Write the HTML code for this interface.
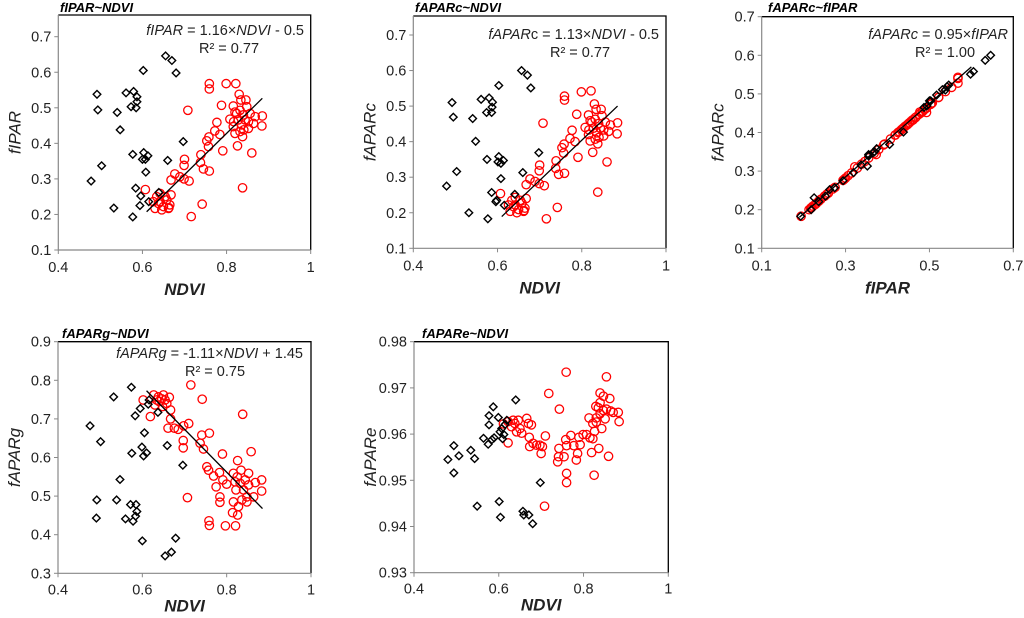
<!DOCTYPE html>
<html><head><meta charset="utf-8"><style>
body{margin:0;background:#fff;}
svg{display:block;font-family:"Liberation Sans",Arial,sans-serif;}
</style></head><body>
<svg id="chart" width="1024" height="618" viewBox="0 0 1024 618" xmlns="http://www.w3.org/2000/svg"></svg>
<script>
// ---- data ----
const ndviBlack1 = [0.655,0.670,0.680,0.602,0.492,0.561,0.579,0.587,0.587,0.573,0.585,0.494,0.540,0.547,0.697,0.577,0.603,0.613,0.600,0.607,0.503,0.660,0.608,0.478,0.584,0.639,0.596,0.615,0.532,0.577,0.594];
const fiparBlack = [0.646,0.633,0.598,0.605,0.538,0.542,0.546,0.531,0.517,0.503,0.500,0.494,0.487,0.438,0.405,0.369,0.374,0.365,0.355,0.355,0.337,0.352,0.319,0.294,0.274,0.262,0.252,0.236,0.218,0.193,0.225];
const ndviBlack2 = [0.657,0.671,0.679,0.603,0.492,0.561,0.580,0.588,0.587,0.574,0.586,0.495,0.541,0.548,0.698,0.575,0.603,0.614,0.601,0.608,0.503,0.660,0.608,0.479,0.586,0.641,0.598,0.616,0.532,0.577,0.596];
const fapcBlack = [0.600,0.587,0.551,0.558,0.510,0.519,0.523,0.511,0.497,0.482,0.482,0.469,0.465,0.401,0.369,0.350,0.358,0.347,0.343,0.339,0.316,0.313,0.296,0.275,0.257,0.252,0.235,0.221,0.200,0.183,0.231];
const ndviRed = [0.607,0.634,0.642,0.650,0.630,0.658,0.665,0.646,0.638,0.654,0.626,0.662,0.642,0.668,0.663,0.668,0.677,0.689,0.699,0.711,0.700,0.699,0.708,0.716,0.742,0.739,0.738,0.745,0.759,0.753,0.758,0.757,0.772,0.784,0.777,0.791,0.788,0.759,0.759,0.799,0.822,0.808,0.817,0.826,0.838,0.860,0.884,0.885,0.868,0.864,0.816,0.830,0.834,0.824,0.832,0.840,0.848,0.844,0.836,0.852,0.832,0.838,0.820,0.856,0.828,0.846,0.820,0.852,0.816,0.841];
const fiparRed = [0.270,0.250,0.236,0.222,0.217,0.241,0.227,0.213,0.231,0.250,0.236,0.217,0.259,0.255,0.219,0.297,0.314,0.306,0.300,0.294,0.355,0.338,0.493,0.194,0.229,0.368,0.346,0.328,0.322,0.407,0.418,0.391,0.435,0.425,0.459,0.379,0.507,0.568,0.553,0.568,0.568,0.468,0.461,0.393,0.275,0.373,0.449,0.477,0.475,0.456,0.505,0.538,0.522,0.484,0.493,0.480,0.503,0.466,0.452,0.442,0.433,0.419,0.428,0.484,0.466,0.522,0.488,0.461,0.447,0.438];
const fapcRed = [0.254,0.235,0.222,0.209,0.204,0.227,0.213,0.200,0.217,0.235,0.222,0.204,0.243,0.240,0.206,0.279,0.295,0.288,0.282,0.276,0.334,0.318,0.452,0.183,0.215,0.346,0.325,0.308,0.311,0.383,0.393,0.368,0.409,0.400,0.432,0.356,0.477,0.528,0.517,0.540,0.543,0.440,0.433,0.370,0.258,0.343,0.422,0.453,0.447,0.429,0.475,0.506,0.491,0.455,0.463,0.451,0.473,0.438,0.425,0.416,0.407,0.394,0.402,0.455,0.438,0.491,0.459,0.433,0.420,0.412];
const ndviBlack4 = [0.574,0.532,0.616,0.595,0.583,0.637,0.476,0.501,0.605,0.659,0.599,0.610,0.603,0.575,0.696,0.547,0.492,0.539,0.491,0.572,0.585,0.587,0.584,0.560,0.578,0.600,0.679,0.669,0.654,0.614];
const fapgBlack = [0.782,0.757,0.749,0.727,0.708,0.717,0.682,0.641,0.664,0.631,0.627,0.612,0.604,0.611,0.580,0.543,0.490,0.490,0.443,0.478,0.478,0.460,0.448,0.441,0.435,0.384,0.391,0.355,0.345,0.738];
const ndviRed4 = [0.715,0.742,0.838,0.707,0.759,0.741,0.858,0.790,0.784,0.758,0.759,0.797,0.821,0.826,0.814,0.826,0.697,0.697,0.710,0.698,0.676,0.661,0.685,0.667,0.667,0.664,0.602,0.619,0.658,0.627,0.638,0.650,0.646,0.634,0.654,0.630,0.648,0.640,0.737,0.745,0.753,0.757,0.769,0.783,0.775,0.791,0.800,0.784,0.816,0.825,0.834,0.844,0.852,0.832,0.840,0.822,0.848,0.836,0.816,0.828,0.848,0.864,0.883,0.883,0.868,0.852,0.820];
const fapgRed = [0.788,0.751,0.712,0.496,0.663,0.658,0.615,0.609,0.484,0.436,0.424,0.423,0.423,0.451,0.457,0.592,0.644,0.625,0.688,0.682,0.676,0.676,0.673,0.700,0.723,0.756,0.749,0.706,0.740,0.762,0.757,0.762,0.752,0.749,0.749,0.736,0.732,0.745,0.637,0.622,0.576,0.567,0.552,0.561,0.524,0.542,0.531,0.498,0.559,0.550,0.567,0.542,0.529,0.533,0.516,0.516,0.498,0.490,0.485,0.473,0.485,0.498,0.542,0.513,0.535,0.559,0.537];
const ndviBlack5 = [0.480,0.494,0.506,0.494,0.534,0.543,0.549,0.564,0.577,0.577,0.575,0.587,0.584,0.589,0.599,0.603,0.609,0.612,0.615,0.619,0.640,0.601,0.604,0.657,0.659,0.671,0.680,0.698,0.607];
const fapeBlack = [0.9545,0.9575,0.9553,0.9516,0.9565,0.9547,0.9444,0.9591,0.9620,0.9640,0.9578,0.9659,0.9588,0.9592,0.9636,0.9605,0.9590,0.9599,0.9621,0.9630,0.9674,0.9454,0.9420,0.9433,0.9425,0.9425,0.9406,0.9495,0.9612];
const ndviRed5 = [0.611,0.622,0.630,0.638,0.646,0.650,0.654,0.642,0.634,0.666,0.670,0.622,0.677,0.672,0.681,0.673,0.689,0.697,0.700,0.703,0.710,0.708,0.718,0.759,0.743,0.742,0.741,0.739,0.754,0.760,0.760,0.758,0.760,0.770,0.777,0.783,0.786,0.789,0.792,0.799,0.807,0.813,0.815,0.819,0.825,0.822,0.826,0.830,0.829,0.836,0.839,0.847,0.854,0.859,0.862,0.864,0.882,0.884,0.851,0.839,0.830,0.847,0.822,0.843,0.854,0.835,0.870,0.839];
const fapeRed = [0.9622,0.9627,0.9616,0.9623,0.9630,0.9612,0.9602,0.9605,0.9630,0.9634,0.9623,0.9581,0.9620,0.9593,0.9580,0.9573,0.9576,0.9576,0.9558,0.9573,0.9596,0.9444,0.9688,0.9734,0.9654,0.9569,0.9551,0.9540,0.9551,0.9515,0.9495,0.9588,0.9575,0.9597,0.9575,0.9544,0.9558,0.9593,0.9577,0.9599,0.9599,0.9635,0.9592,0.9560,0.9511,0.9590,0.9606,0.9635,0.9660,0.9569,0.9689,0.9682,0.9724,0.9552,0.9677,0.9650,0.9647,0.9627,0.9633,0.9644,0.9626,0.9651,0.9623,0.9612,0.9654,0.9657,0.9647,0.9668];
const ticksNDVI = [0.4,0.6,0.8,1];
const ticksFpar = [0.1,0.3,0.5,0.7];
const ticksY1 = [0.1,0.2,0.3,0.4,0.5,0.6,0.7];
const ticksY4 = [0.3,0.4,0.5,0.6,0.7,0.8,0.9];
const ticksY5 = [0.93,0.94,0.95,0.96,0.97,0.98];
const fit1 = [1.16,-0.5,0.61,0.885];
const fit2 = [1.13,-0.5,0.61,0.885];
const fit3 = [0.95,0,0.19,0.60];
const fit4 = [-1.11,1.45,0.61,0.885];

const NS="http://www.w3.org/2000/svg";
const svg=document.getElementById('chart');
function mk(tag,attrs,parent){const e=document.createElementNS(NS,tag);for(const k in attrs)e.setAttribute(k,attrs[k]);(parent||svg).appendChild(e);return e;}

function panel(p){
  const g=mk('g',{});
  
  
  const sx=v=>p.x0+(v-p.xmin)/(p.xmax-p.xmin)*(p.x1-p.x0);
  const sy=v=>p.yb-(v-p.ymin)/(p.ymax-p.ymin)*(p.yb-p.yt);
  const fr=mk('path',{d:`M${p.x0},${p.top} H${p.x1} V${p.yb}`,fill:'none',stroke:'#000','stroke-width':1.3},g);
  
  
  const ax=mk('path',{d:`M${p.x0},${p.top} V${p.yb} H${p.x1}`,fill:'none',stroke:'#888','stroke-width':1.2},g);
  
  
  p.yt_ticks.forEach(t=>{
    const y=sy(t);
    mk('line',{x1:p.x0-4,x2:p.x0,y1:y,y2:y,stroke:'#888'},g);
    const tx=mk('text',{x:p.x0-7,y:y+5,'text-anchor':'end','font-size':14.5,fill:'#222'},g);
    tx.textContent=p.fmtY(t);
    
    
  });
  p.xt_ticks.forEach(t=>{
    const x=sx(t);
    mk('line',{x1:x,x2:x,y1:p.yb,y2:p.yb+4,stroke:'#888'},g);
    const tx=mk('text',{x:x,y:p.yb+p.tkOff,'text-anchor':'middle','font-size':14.5,fill:'#222'},g);
    tx.textContent=String(t);
    
    
  });
  const ti=mk('text',{x:p.tx,y:p.ty,'font-size':13,'font-weight':'bold','font-style':'italic',fill:'#000'},g);
  ti.textContent=p.title;
  
  
  const xt=mk('text',{x:(p.x0+p.x1)/2,y:p.yb+p.xtOff,'text-anchor':'middle','font-size':17,'font-weight':'bold','font-style':'italic',fill:'#222'},g);
  xt.textContent=p.xlab;
  
  
  const cy=(p.top+p.yb)/2;
  const yt=mk('text',{x:p.x0-38,y:cy,'text-anchor':'middle','font-size':17,'font-style':'italic',fill:'#222',transform:`rotate(-90 ${p.x0-38} ${cy})`},g);
  yt.textContent=p.ylab;
  
  
  p.rx.forEach((v,i)=>{
    const c=mk('circle',{cx:sx(v),cy:sy(p.ry[i]),r:4.2,fill:'none',stroke:'#f00','stroke-width':1.3},g);
    
    
  });
  p.bx.forEach((v,i)=>{
    const x=sx(v),y=sy(p.by[i]);
    const d=mk('path',{d:`M${x},${y-3.8} L${x+3.8},${y} L${x},${y+3.8} L${x-3.8},${y} Z`,fill:'none',stroke:'#000','stroke-width':1.4},g);
    
    
  });
  if(p.fit){
    const f=p.fit;
    const l=mk('line',{x1:sx(f[2]),y1:sy(f[0]*f[2]+f[1]),x2:sx(f[3]),y2:sy(f[0]*f[3]+f[1]),stroke:'#000','stroke-width':1.3},g);
    
    
    const eq=mk('text',{x:p.ex,y:p.ey,'text-anchor':'end','font-size':14.5,fill:'#222'},g);
    eq.innerHTML=p.eq;
    
    
    const r2=mk('text',{x:p.rx2,y:p.ey+18,'text-anchor':'middle','font-size':14.5,fill:'#222'},g);
    r2.innerHTML=p.r2;
    
    
  }
}
const f1=v=>v.toFixed(1), f2=v=>v.toFixed(2);
panel({name:'panel-fipar-ndvi',x0:58.3,x1:310.7,xmin:0.4,xmax:1,yb:250,yt:36.7,ymin:0.1,ymax:0.7,top:15,tkOff:22,xtOff:45,
  yt_ticks:ticksY1,xt_ticks:ticksNDVI,fmtY:f1,title:'fIPAR~NDVI',tx:60,ty:12,xlab:'NDVI',ylab:'fIPAR',
  bx:ndviBlack1,by:fiparBlack,rx:ndviRed,ry:fiparRed,fit:fit1,ex:304,ey:35,rx2:229,
  eq:'<tspan font-style="italic">fIPAR</tspan> = 1.16×<tspan font-style="italic">NDVI</tspan> - 0.5',r2:'R² = 0.77'});
panel({name:'panel-faparc-ndvi',x0:413.3,x1:666,xmin:0.4,xmax:1,yb:248.3,yt:35,ymin:0.1,ymax:0.7,top:16,tkOff:22,xtOff:45,
  yt_ticks:ticksY1,xt_ticks:ticksNDVI,fmtY:f1,title:'fAPARc~NDVI',tx:415,ty:12,xlab:'NDVI',ylab:'fAPARc',
  bx:ndviBlack2,by:fapcBlack,rx:ndviRed,ry:fapcRed,fit:fit2,ex:659,ey:39,rx2:580,
  eq:'<tspan font-style="italic">fAPAR</tspan>c = 1.13×<tspan font-style="italic">NDVI</tspan> - 0.5',r2:'R² = 0.77'});
panel({name:'panel-faparc-fipar',x0:761.7,x1:1013.3,xmin:0.1,xmax:0.7,yb:248.3,yt:16.7,ymin:0.1,ymax:0.7,top:16.7,tkOff:22,xtOff:45,
  yt_ticks:ticksY1,xt_ticks:ticksFpar,fmtY:f1,title:'fAPARc~fIPAR',tx:768,ty:12,xlab:'fIPAR',ylab:'fAPARc',
  bx:fiparBlack,by:fapcBlack,rx:fiparRed,ry:fapcRed,fit:fit3,ex:1008,ey:39,rx2:945,
  eq:'<tspan font-style="italic">fAPARc</tspan> = 0.95×<tspan font-style="italic">fIPAR</tspan>',r2:'R² = 1.00'});
panel({name:'panel-faparg-ndvi',x0:58,x1:311,xmin:0.4,xmax:1,yb:573.3,yt:341.7,ymin:0.3,ymax:0.9,top:341.7,tkOff:21,xtOff:38,
  yt_ticks:ticksY4,xt_ticks:ticksNDVI,fmtY:f1,title:'fAPARg~NDVI',tx:62,ty:338,xlab:'NDVI',ylab:'fAPARg',
  bx:ndviBlack4,by:fapgBlack,rx:ndviRed4,ry:fapgRed,fit:fit4,ex:303,ey:358,rx2:215,
  eq:'<tspan font-style="italic">fAPARg</tspan> = -1.11×<tspan font-style="italic">NDVI</tspan> + 1.45',r2:'R² = 0.75'});
panel({name:'panel-fapare-ndvi',x0:414,x1:668.3,xmin:0.4,xmax:1,yb:572.7,yt:341.7,ymin:0.93,ymax:0.98,top:341.7,tkOff:21,xtOff:38,
  yt_ticks:ticksY5,xt_ticks:ticksNDVI,fmtY:f2,title:'fAPARe~NDVI',tx:422,ty:338,xlab:'NDVI',ylab:'fAPARe',
  bx:ndviBlack5,by:fapeBlack,rx:ndviRed5,ry:fapeRed,fit:null});
</script>
</body></html>
